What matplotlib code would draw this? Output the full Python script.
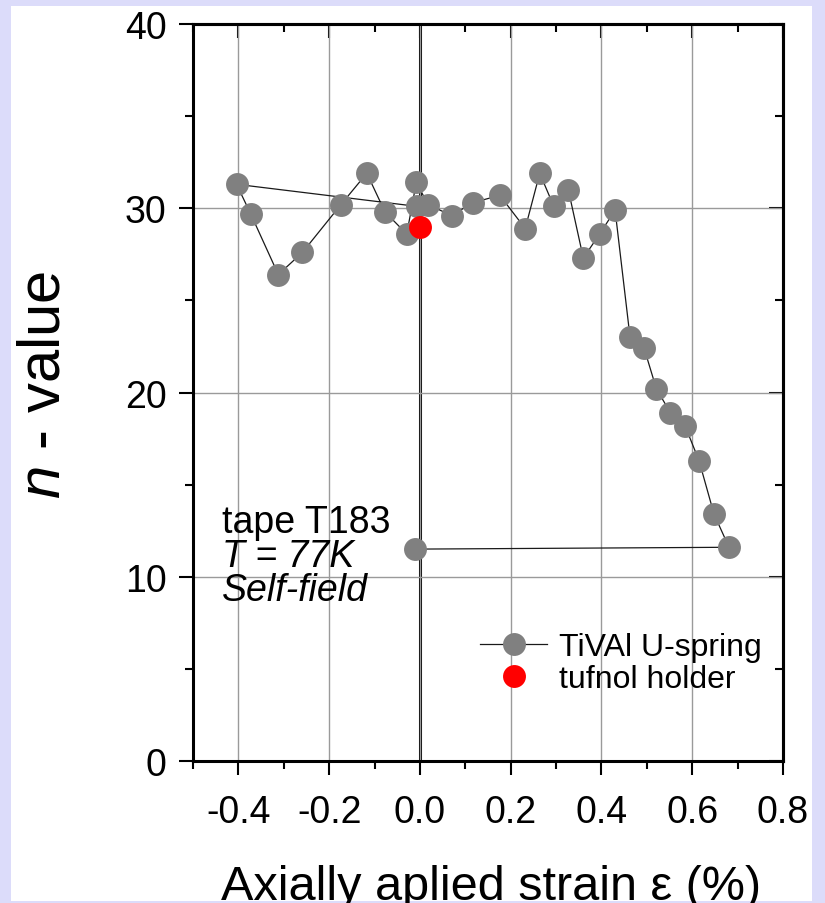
import matplotlib
matplotlib.use('Agg')
import matplotlib.pyplot as plt
from matplotlib.patches import Rectangle
from matplotlib.ticker import MultipleLocator

plt.rcParams['font.family'] = ['Liberation Sans', 'DejaVu Sans']
plt.rcParams['mathtext.fontset'] = 'custom'
plt.rcParams['mathtext.rm'] = 'Liberation Sans'
plt.rcParams['mathtext.it'] = 'Liberation Sans:italic'

# TiVAl U-spring, in measuring order
strain = [-0.006, -0.404, -0.373, -0.312, -0.259, -0.174, -0.117, -0.077, -0.029,
          -0.008, 0.018, 0.070, 0.116, 0.176, 0.232, 0.264, 0.295, 0.327, 0.360,
          0.396, 0.430, 0.463, 0.494, 0.521, 0.552, 0.584, 0.615, 0.648, 0.681,
          -0.011]
n_value = [30.1, 31.3, 29.7, 26.4, 27.6, 30.2, 31.9, 29.8, 28.6,
           31.4, 30.2, 29.6, 30.3, 30.7, 28.9, 31.9, 30.1, 31.0, 27.3,
           28.6, 29.9, 23.0, 22.4, 20.2, 18.9, 18.2, 16.3, 13.4, 11.6,
           11.5]

# tufnol holder
strain_tuf = [0.0]
n_tuf = [29.0]

xticks = [-0.4, -0.2, 0.0, 0.2, 0.4, 0.6, 0.8]
xticklabels = ['-0.4', '-0.2', '0.0', '0.2', '0.4', '0.6', '0.8']
yticks = [0, 10, 20, 30, 40]

W, H = 825, 904
fig = plt.figure(figsize=(W / 100, H / 100), dpi=100, facecolor='#dcdcfa')
fig.patches.append(Rectangle((11 / W, 2 / H), 801 / W, 895 / H, transform=fig.transFigure,
                             facecolor='white', edgecolor='none', zorder=-10))
ax = fig.add_axes([193 / W, 142 / H, 590 / W, 737 / H])

ax.grid(True, which='major', color='#9a9a9a', lw=1.0, zorder=0)
ax.axvline(0, color='black', lw=2.2, zorder=1.5)

ax.plot(strain, n_value, '-', color='#1a1a1a', lw=0.9, marker='o', ms=16.5,
        mfc='#808080', mec='none', label='TiVAl U-spring', zorder=3)
ax.plot(strain_tuf, n_tuf, 'o', color='red', ms=16.5, mec='none',
        label='tufnol holder', zorder=4)

ax.set_xlim(-0.5, 0.8)
ax.set_ylim(0, 40)
ax.set_xticks(xticks)
ax.set_xticklabels(xticklabels)
ax.set_yticks(yticks)
ax.xaxis.set_minor_locator(MultipleLocator(0.1))
ax.yaxis.set_minor_locator(MultipleLocator(5))
ax.tick_params(which='both', direction='out', width=1.5, labelsize=27, top=False, right=False)
ax.tick_params(which='major', length=10)
ax.tick_params(which='minor', length=6)
ax.tick_params(axis='x', pad=14)
ax.tick_params(axis='y', pad=9)
for s in ax.spines.values():
    s.set_linewidth(2.2)

# inward ticks on top and right
secx = ax.secondary_xaxis('top')
secx.set_xticks(xticks)
secx.xaxis.set_minor_locator(MultipleLocator(0.1))
secx.tick_params(which='both', direction='in', width=1.5, labeltop=False, labelbottom=False)
secx.tick_params(which='major', length=10)
secx.tick_params(which='minor', length=6)
secx.spines['top'].set_linewidth(2.2)

secy = ax.secondary_yaxis('right')
secy.set_yticks(yticks)
secy.yaxis.set_minor_locator(MultipleLocator(5))
secy.tick_params(which='both', direction='in', width=1.5, labelright=False, labelleft=False)
secy.tick_params(which='major', length=10)
secy.tick_params(which='minor', length=6)
secy.spines['right'].set_linewidth(2.2)

ax.set_xlabel('Axially aplied strain ε (%)', fontsize=35)
ax.xaxis.label.set_va('baseline')
ax.xaxis.set_label_coords(0.505, -0.1872)
ax.set_ylabel('$n$ - value', fontsize=43)
ax.yaxis.label.set_va('center')
ax.yaxis.set_label_coords(-0.2525, 0.5115)

ax.text(0.049, 0.3107, 'tape T183', transform=ax.transAxes, fontsize=27, va='baseline')
ax.text(0.049, 0.2646, 'T = 77K', transform=ax.transAxes, fontsize=27, va='baseline',
        style='italic')
ax.text(0.049, 0.2185, 'Self-field', transform=ax.transAxes, fontsize=27, va='baseline',
        style='italic')

ax.legend(loc='upper left', bbox_to_anchor=(0.4864, 0.1744), frameon=False, fontsize=23,
          handlelength=2.1, handletextpad=0.37, labelspacing=0.05, borderpad=0,
          borderaxespad=0)

fig.savefig('out.png', dpi=100, facecolor=fig.get_facecolor())
